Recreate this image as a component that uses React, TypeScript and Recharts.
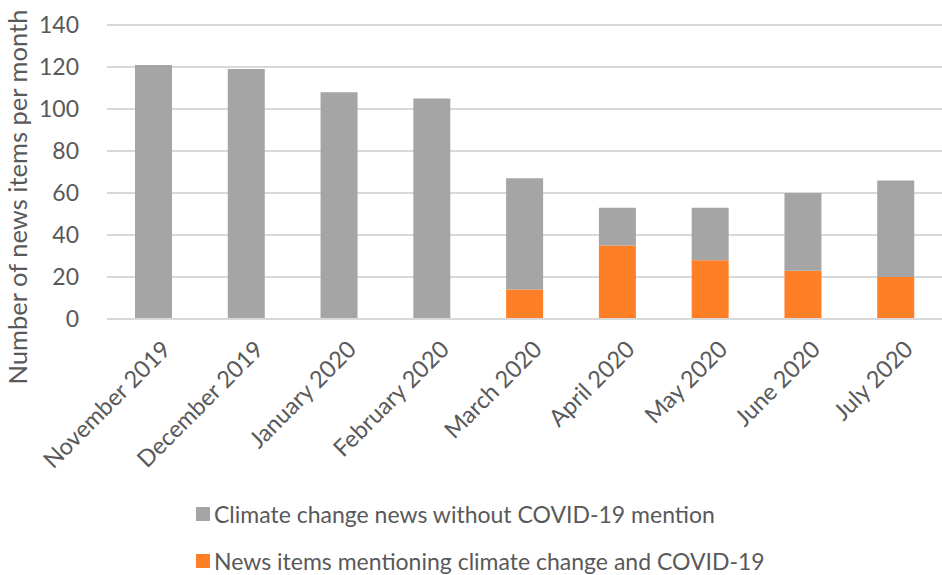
import React from "react";
import {BarChart, Bar, XAxis, YAxis, CartesianGrid, Legend} from "recharts";

// monthly counts
const months = [
    "November 2019", "December 2019", "January 2020", "February 2020", "March 2020",
    "April 2020", "May 2020", "June 2020", "July 2020",
];
const withCovid = [0, 0, 0, 0, 14, 35, 28, 23, 20];
const withoutCovid = [121, 119, 108, 105, 53, 18, 25, 37, 46];
const yTicks = [0, 20, 40, 60, 80, 100, 120, 140];

const GRAY = "#a5a5a5";
const ORANGE = "#ff7f27";
const TEXT = "#595959";
const FONT = "Lato, 'Open Sans', sans-serif";

const data = months.map((m, i) => ({
    month: m,
    covid: withCovid[i],
    noCovid: withoutCovid[i],
}));

const legendItems = [
    {label: "Climate change news without COVID-19 mention", color: GRAY},
    {label: "News items mentioning climate change and COVID-19", color: ORANGE},
];

const MonthTick = (props: any) => {
    const {x, y, payload} = props;
    return (
        <g transform={`translate(${x + 13},${y + 18})`}>
            <text transform="rotate(-45)" textAnchor="end" dy="0.35em"
                  fill={TEXT} fontSize={23.5} fontFamily={FONT}>
                {payload.value}
            </text>
        </g>
    );
};

const AxisTitle = () => (
    <text x={0} y={0} transform="translate(27,197) rotate(-90)" textAnchor="middle"
          fill={TEXT} fontSize={25.5} fontFamily={FONT}>
        Number of news items per month
    </text>
);

const LegendBox = () => (
    <div style={{paddingLeft: 196, fontFamily: FONT, fontSize: 23, color: TEXT}}>
        {legendItems.map((it) => (
            <div key={it.label} style={{display: "flex", alignItems: "center", height: 47}}>
                <span style={{width: 14, height: 14, background: it.color, marginRight: 4, display: "inline-block"}}/>
                <span>{it.label}</span>
            </div>
        ))}
    </div>
);

export default function App() {
    return (
        <div style={{position: "absolute", left: 0, top: 0, width: 942, height: 575, background: "#fff", overflow: "hidden"}}>
            <BarChart width={942} height={575} data={data}
                      margin={{top: 25, right: 0, bottom: 0, left: 0}}>
                <CartesianGrid vertical={false} stroke="#d9d9d9" strokeWidth={2}/>
                <XAxis dataKey="month" interval={0} tick={<MonthTick/>} tickLine={false}
                       axisLine={{stroke: "#d9d9d9", strokeWidth: 2}} height={162}/>
                <YAxis domain={[0, 140]} ticks={yTicks} axisLine={false} tickLine={false}
                       width={107} tick={{fill: TEXT, fontSize: 23, fontFamily: FONT}} tickMargin={22}
                       label={<AxisTitle/>}/>
                <Bar dataKey="covid" stackId="a" fill={ORANGE} barSize={37} isAnimationActive={false}/>
                <Bar dataKey="noCovid" stackId="a" fill={GRAY} barSize={37} isAnimationActive={false}/>
                <Legend verticalAlign="bottom" align="left" content={<LegendBox/>}
                        wrapperStyle={{bottom: -9}}/>
            </BarChart>
        </div>
    );
}
